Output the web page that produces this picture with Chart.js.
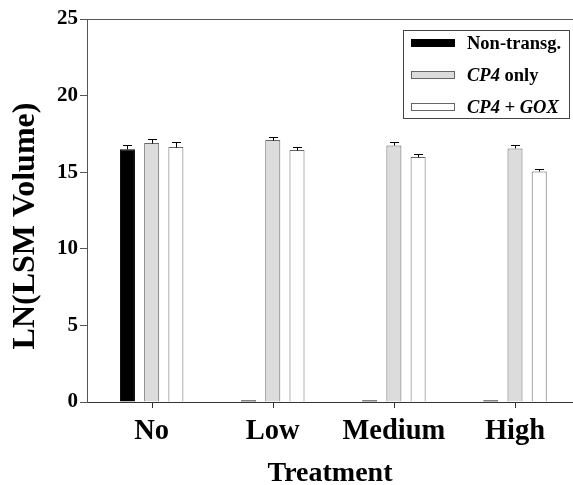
<!DOCTYPE html>
<html>
<head>
<meta charset="utf-8">
<script src="https://cdn.jsdelivr.net/npm/chart.js@4/dist/chart.umd.min.js"></script>
<style>
  html, body { margin: 0; padding: 0; background: #fff; overflow: hidden; }
  #wrap { width: 573px; height: 485px; }
</style>
</head>
<body>
<div id="wrap"><canvas id="chart" width="573" height="485"></canvas></div>
<script>
// Donnees
const categories = ['No', 'Low', 'Medium', 'High'];
const nonTransg = [16.5, 0.12, 0.12, 0.12];
const nonTransgErr = [0.26, 0, 0, 0];
const cp4Only = [16.9, 17.1, 16.75, 16.55];
const cp4OnlyErr = [0.25, 0.23, 0.2, 0.2];
const cp4Gox = [16.65, 16.45, 16.0, 15.05];
const cp4GoxErr = [0.3, 0.2, 0.17, 0.17];
const yTicks = [0, 5, 10, 15, 20, 25];
const yTitle = 'LN(LSM Volume)';
const xTitle = 'Treatment';

// Libelles de legende (morceaux en italique)
const legendLabels = [
    [{ t: 'Non-transg.' }],
    [{ t: 'CP4', i: true }, { t: ' only' }],
    [{ t: 'CP4 + GOX', i: true }]
];

const SERIF = '"Liberation Serif", "Times New Roman", serif';

// un point {x: index, y: valeur} par categorie
const toPoints = arr => arr.map((v, i) => ({ x: i, y: v }));

// Barres d'erreur (vers le haut seulement) + ligne du haut + petits traits X + titre Y
const errorBars = {
    id: 'errorBars',
    afterDatasetsDraw(chart) {
        const ctx = chart.ctx;
        const x = chart.scales.x;
        const y = chart.scales.y;
        const area = chart.chartArea;
        ctx.save();
        ctx.strokeStyle = '#000';
        ctx.lineWidth = 1;
        chart.data.datasets.forEach((ds, i) => {
            const meta = chart.getDatasetMeta(i);
            meta.data.forEach((bar, j) => {
                const err = ds.errors[j];
                if (!err) return;
                const val = meta.controller.getParsed(j).y;
                const y0 = Math.round(bar.y) + 0.5;
                const y1 = Math.round(y.getPixelForValue(val + err)) + 0.5;
                const bx = Math.round(bar.x) + 0.5;
                ctx.beginPath();
                ctx.moveTo(bx, y0);
                ctx.lineTo(bx, y1);
                ctx.moveTo(bx - 4.5, y1);
                ctx.lineTo(bx + 4.5, y1);
                ctx.stroke();
            });
        });
        // traits sous l'axe X, au centre de chaque categorie
        ctx.strokeStyle = '#333';
        categories.forEach((c, i) => {
            const px = Math.round(x.getPixelForValue(i)) + 0.5;
            ctx.beginPath();
            ctx.moveTo(px, area.bottom);
            ctx.lineTo(px, area.bottom + 6);
            ctx.stroke();
        });
        // ligne du haut
        ctx.strokeStyle = '#555';
        ctx.beginPath();
        ctx.moveTo(area.left, Math.round(area.top) + 0.5);
        ctx.lineTo(area.right, Math.round(area.top) + 0.5);
        ctx.stroke();
        // titre de l'axe Y
        ctx.translate(26, 226);
        ctx.rotate(-Math.PI / 2);
        ctx.fillStyle = '#000';
        ctx.font = 'bold 32px ' + SERIF;
        ctx.textAlign = 'center';
        ctx.textBaseline = 'middle';
        ctx.fillText(yTitle, 0, 0);
        ctx.restore();
    }
};

// Legende dessinee a la main (texte en partie italique)
const boxLegend = {
    id: 'boxLegend',
    afterDraw(chart) {
        const ctx = chart.ctx;
        const area = chart.chartArea;
        const bx = area.right - 170, by = area.top + 11, bw = 166, bh = 88;
        ctx.save();
        ctx.fillStyle = '#fff';
        ctx.fillRect(bx, by, bw, bh);
        ctx.strokeStyle = '#444';
        ctx.lineWidth = 1;
        ctx.strokeRect(Math.round(bx) + 0.5, Math.round(by) + 0.5, bw, bh);
        chart.data.datasets.forEach((ds, i) => {
            const cy = by + 13 + i * 32;
            ctx.fillStyle = ds.backgroundColor;
            ctx.fillRect(bx + 8, cy - 4, 44, 8);
            ctx.strokeStyle = ds.borderColor;
            ctx.strokeRect(Math.round(bx + 8) + 0.5, Math.round(cy - 4) + 0.5, 43, 7);
            let tx = bx + 64;
            ctx.fillStyle = '#000';
            ctx.textBaseline = 'middle';
            legendLabels[i].forEach(part => {
                ctx.font = (part.i ? 'italic ' : '') + 'bold 18.5px ' + SERIF;
                ctx.fillText(part.t, tx, cy + 1);
                tx += ctx.measureText(part.t).width;
            });
        });
        ctx.restore();
    }
};

new Chart(document.getElementById('chart'), {
    type: 'bar',
    data: {
        datasets: [{
            label: 'Non-transg.',
            data: toPoints(nonTransg),
            errors: nonTransgErr,
            backgroundColor: '#000',
            borderColor: '#000',
            borderWidth: 1
        }, {
            label: 'CP4 only',
            data: toPoints(cp4Only),
            errors: cp4OnlyErr,
            backgroundColor: '#dcdcdc',
            borderColor: '#666',
            borderWidth: 1
        }, {
            label: 'CP4 + GOX',
            data: toPoints(cp4Gox),
            errors: cp4GoxErr,
            backgroundColor: '#fff',
            borderColor: '#666',
            borderWidth: 1
        }]
    },
    options: {
        responsive: false,
        animation: false,
        layout: { padding: { top: 19, right: 0, left: 0, bottom: 0 } },
        datasets: {
            bar: { categoryPercentage: 0.6, barPercentage: 0.62 }
        },
        plugins: {
            legend: { display: false },
            tooltip: { enabled: false }
        },
        scales: {
            x: {
                type: 'linear',
                min: -0.534,
                max: 3.479,
                offset: false,
                afterBuildTicks(scale) { scale.ticks = categories.map((c, i) => ({ value: i })); },
                grid: {
                    display: false,
                    tickLength: 6
                },
                border: { color: '#333', width: 1 },
                ticks: {
                    color: '#000',
                    padding: 7,
                    autoSkip: false,
                    maxRotation: 0,
                    callback: v => categories[v],
                    font: { family: SERIF, size: 28.5, weight: 'bold' }
                },
                title: {
                    display: true,
                    text: xTitle,
                    color: '#000',
                    padding: { top: 0, bottom: 0 },
                    font: { family: SERIF, size: 28, weight: 'bold', lineHeight: 0.8 }
                },
                afterFit(scale) { scale.height = 83; }
            },
            y: {
                min: 0,
                max: 25,
                afterBuildTicks(scale) { scale.ticks = yTicks.map(v => ({ value: v })); },
                grid: {
                    drawOnChartArea: false,
                    tickLength: 7,
                    color: '#555'
                },
                border: { color: '#555', width: 1 },
                ticks: {
                    color: '#000',
                    padding: 2,
                    font: { family: SERIF, size: 21, weight: 'bold' }
                },
                afterFit(scale) { scale.width = 87; }
            }
        }
    },
    plugins: [errorBars, boxLegend]
});
</script>
</body>
</html>
